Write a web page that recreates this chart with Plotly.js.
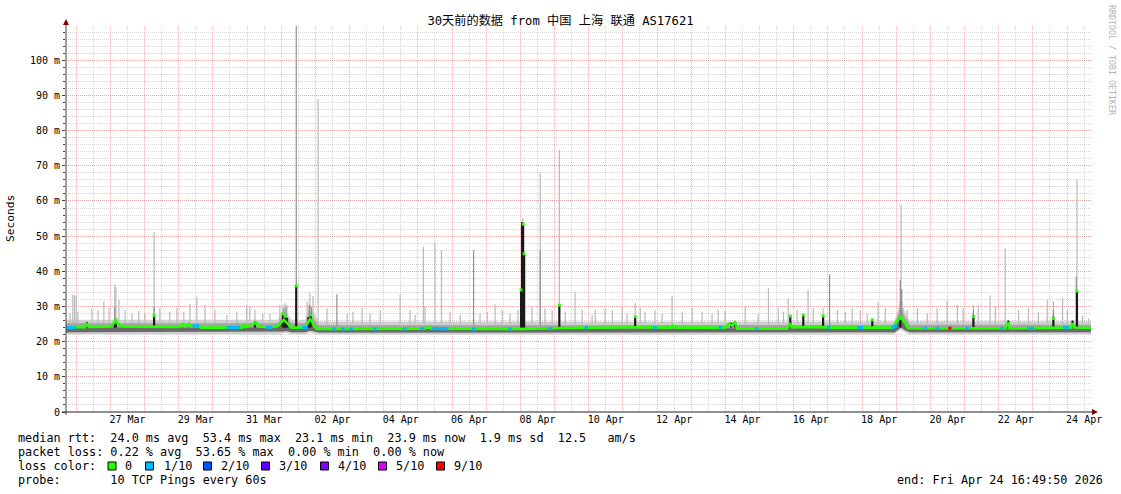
<!DOCTYPE html>
<html><head><meta charset="utf-8">
<script src="https://cdn.plot.ly/plotly-3.0.1.min.js"></script>
<style>html,body{margin:0;padding:0;background:#fff;}#chart{width:1121px;height:494px;}</style>
</head><body><div id="chart"></div>
<script>
// x values: days since 26 Mar 2026 00:00 (local)
const xRange = [-0.2986, 29.701];
const yRange = [0, 109.75];

const titleText = "30天前的数据 from 中国 上海 联通 AS17621";
const yTitle = "Seconds";
const watermark = "RRDTOOL / TOBI OETIKER";

const dayTickPos = [1.5, 3.5, 5.5, 7.5, 9.5, 11.5, 13.5, 15.5, 17.5, 19.5, 21.5, 23.5, 25.5, 27.5, 29.5];
const dayTickText = ["27 Mar", "29 Mar", "31 Mar", "02 Apr", "04 Apr", "06 Apr", "08 Apr", "10 Apr", "12 Apr", "14 Apr", "16 Apr", "18 Apr", "20 Apr", "22 Apr", "24 Apr"];
const yTickVals = [0, 10, 20, 30, 40, 50, 60, 70, 80, 90, 100];
const yTickText = ["0", "10 m", "20 m", "30 m", "40 m", "50 m", "60 m", "70 m", "80 m", "90 m", "100 m"];

// smoke band (ms)
const bandT   = [-0.30, 5.90, 6.05, 6.15, 6.30, 6.70, 6.84, 6.97, 7.10, 13.00, 13.06, 13.12, 23.95, 24.05, 24.14, 24.25, 24.40, 29.70];
const lightHi = [26.2, 26.2, 29.0, 28.5, 26.2, 26.2, 30.5, 28.0, 25.7, 25.7, 30.0, 25.7, 25.8, 29.0, 33.0, 28.5, 25.8, 25.8];
const midHi   = [25.2, 25.2, 27.0, 26.8, 25.2, 25.2, 28.0, 26.5, 24.7, 24.7, 26.0, 24.7, 24.8, 27.5, 30.0, 27.0, 24.8, 24.8];
const darkHi  = [24.0, 24.0, 25.5, 25.8, 24.0, 24.0, 26.5, 25.2, 23.6, 23.6, 23.6, 23.6, 23.9, 25.6, 26.8, 25.2, 23.8, 23.8];
const darkLo  = [22.7, 22.7, 22.9, 23.0, 22.7, 22.7, 23.2, 22.9, 22.6, 22.6, 22.6, 22.6, 22.7, 23.4, 24.0, 23.3, 22.7, 22.7];
const lightLo = [22.1, 22.1, 22.4, 22.5, 22.1, 22.1, 22.6, 22.3, 22.0, 22.0, 22.0, 22.0, 22.1, 22.8, 23.4, 22.7, 22.1, 22.1];

// light smoke spikes (max pings)
const smokeT = [-0.18,-0.10,-0.05,0.00,0.05,0.46,0.64,0.81,0.96,1.13,1.16,1.25,1.43,1.63,1.83,2.01,2.28,2.45,2.74,2.95,3.15,3.33,3.53,3.77,4.06,4.41,4.70,4.99,5.08,5.23,5.46,5.67,5.96,6.05,6.11,6.17,6.76,6.84,6.93,7.08,7.34,7.93,8.10,8.37,8.60,8.90,9.48,9.77,9.92,10.16,10.21,10.50,10.69,10.94,11.24,11.82,12.03,12.26,12.47,12.70,12.93,13.07,13.34,13.58,13.72,13.93,14.14,14.31,14.60,14.81,15.10,15.19,15.48,15.69,15.98,16.12,16.36,16.51,16.65,16.94,17.15,17.44,17.74,18.03,18.32,18.61,18.79,18.99,19.58,19.96,20.26,20.55,20.70,20.84,21.10,21.42,21.57,21.86,22.28,22.51,22.71,22.95,23.15,23.47,23.68,24.14,24.32,24.62,24.91,25.20,25.49,25.79,25.96,26.26,26.40,26.75,26.90,27.19,27.58,27.87,28.16,28.42,28.60,28.87,29.01,29.29,29.45,29.63];
const smokeTop = [28.0,33.3,33.3,33.0,28.5,29.5,29.0,31.4,29.5,36.3,35.5,31.9,29.0,28.0,28.7,28.0,51.2,29.5,28.5,29.5,28.5,30.7,32.8,30.4,29.0,27.6,28.5,30.4,29.9,29.0,28.0,28.0,30.4,30.4,31.0,30.4,31.5,34.0,33.0,89.0,29.5,28.0,28.5,29.5,28.0,29.0,33.5,29.0,27.6,47.0,30.0,48.1,46.0,28.5,27.6,28.0,28.5,30.6,29.0,28.0,29.0,55.0,29.9,68.0,29.5,29.0,74.5,28.5,34.2,29.0,27.6,29.0,29.5,29.0,29.9,28.0,31.0,29.5,28.5,29.0,28.0,33.0,28.5,29.5,28.5,28.0,29.0,28.7,29.9,28.0,35.2,29.5,28.5,32.3,29.0,34.7,29.5,29.5,29.0,28.5,29.5,29.0,28.0,31.3,29.5,59.0,29.0,29.5,28.0,29.5,31.7,30.4,29.5,30.4,30.4,33.1,29.9,46.5,29.0,29.5,28.5,32.0,31.4,32.5,29.0,66.0,27.3,26.6];

// darker smoke spikes
const midT   = [1.13, 2.28, 6.08, 6.14, 6.44, 6.82, 6.88, 7.63, 11.63, 13.58, 22.05, 24.12, 24.16, 26.26, 28.60, 29.27];
const midTop = [30.0, 30.0, 29.5, 30.0, 109.8, 30.5, 30.0, 33.5, 46.0, 46.0, 39.2, 37.5, 35.0, 29.0, 29.0, 38.5];

// near-black smoke columns
const blackT   = [0.31, 1.13, 1.16, 2.28, 5.23, 6.05, 6.11, 6.17, 6.44, 6.80, 6.86, 13.02, 13.05, 13.08, 13.11, 14.14, 16.36, 19.17, 19.29, 20.90, 21.28, 21.86, 23.30, 24.12, 26.26, 27.28, 28.60, 29.16, 29.29];
const blackTop = [25.6, 25.9, 26.4, 27.5, 25.7, 27.9, 27.6, 26.8, 35.9, 27.0, 28.0, 34.7, 54.0, 53.4, 45.0, 30.4, 27.1, 25.4, 25.5, 27.3, 27.6, 27.3, 26.2, 27.5, 27.6, 26.0, 27.1, 26.0, 34.4];

// median rtt (loss 0 colour)
const medT = [-0.30,0.25,0.31,0.37,1.00,1.10,1.16,1.22,1.30,1.45,2.20,2.35,3.00,3.12,3.20,3.30,3.38,3.50,3.65,4.85,4.90,4.96,5.20,5.28,5.35,5.70,5.90,6.00,6.08,6.14,6.22,6.30,6.70,6.78,6.84,6.90,6.97,7.05,10.20,10.30,10.40,13.00,13.15,14.20,14.90,16.30,17.40,17.45,17.50,19.00,19.10,19.18,19.28,19.35,20.80,20.88,20.95,21.70,22.10,23.90,24.00,24.10,24.18,24.25,24.35,27.20,27.27,27.32,29.10,29.16,29.22,29.70];
const medV = [24.1,24.1,25.0,24.2,24.3,25.4,25.8,25.0,24.6,24.3,24.2,24.1,24.2,25.0,24.2,25.0,24.3,24.5,24.0,24.0,24.9,24.1,25.1,25.4,24.3,24.1,24.6,25.4,26.2,25.6,24.8,24.0,24.0,25.6,26.4,25.8,24.4,23.6,23.7,24.2,23.7,23.6,23.6,23.9,24.0,24.1,24.0,24.6,24.0,24.0,25.1,24.6,25.5,23.7,23.7,25.0,24.1,24.2,24.0,24.0,25.6,26.8,26.4,25.2,23.8,23.8,25.5,23.8,24.0,25.2,24.0,23.9];

// median samples drawn high (tips of spikes)
const tipT = [1.16, 2.28, 6.05, 6.11, 6.44, 6.86, 13.02, 13.08, 13.11, 14.14, 16.36, 20.90, 21.28, 21.86, 23.30, 24.12, 26.26, 28.60, 29.29];
const tipV = [26.2, 27.4, 27.9, 27.2, 35.9, 27.6, 34.7, 53.4, 45.0, 30.4, 27.1, 27.3, 27.6, 27.3, 26.2, 27.1, 27.1, 26.6, 34.4];

// median samples with 1/10 loss
const blueT = [-0.25,-0.15,-0.05,3.45,3.55,4.45,4.55,4.65,4.75,5.60,5.70,6.65,6.72,7.55,7.81,8.05,8.75,9.62,10.12,10.45,10.55,10.65,10.75,10.85,11.63,12.70,13.87,14.93,16.94,18.85,19.92,22.02,22.90,22.98,23.90,23.98,24.85,25.20,26.08,27.10,27.88,27.98,28.93,29.00];
const blueV = [24.0,24.0,24.0,24.5,24.5,24.0,24.0,24.0,24.0,24.1,24.1,24.0,24.0,23.6,23.6,23.6,23.6,23.6,23.7,23.7,23.8,23.7,23.7,23.7,23.6,23.6,23.7,24.0,24.0,24.0,23.7,24.0,24.0,24.0,24.0,24.4,23.8,23.8,23.8,23.8,23.8,23.8,24.0,24.0];
// median samples with 9/10 loss
const redT = [25.57];
const redV = [23.8];

// legend
const legendRow1 = "median rtt:  24.0 ms avg  53.4 ms max  23.1 ms min  23.9 ms now  1.9 ms sd  12.5   am/s";
const legendRow2 = "packet loss: 0.22 % avg  53.65 % max  0.00 % min  0.00 % now";
const legendRow3 = "loss color:";
const legendRow4 = "probe:       10 TCP Pings every 60s";
const endText = "end: Fri Apr 24 16:49:50 2026";
const lossLabels = ["0", "1/10", "2/10", "3/10", "4/10", "5/10", "9/10"];
const lossColors = ["#26ff00", "#00b8ff", "#0059ff", "#5e00ff", "#7e00ff", "#dd00ff", "#ff0000"];

// ---------- layout helpers (pixel -> paper) ----------
const W = 1121, H = 494, L = 66, R = 30, T = 26, B = 82;
const PW = W - L - R, PH = H - T - B;
const px = x => (x - L) / PW;
const py = y => (H - B - y) / PH;
const nb = s => s.replace(/ /g, "\u00a0");
const MONO = "DejaVu Sans Mono";

function spikes(ts, tops, base) {
  const x = [], y = [];
  ts.forEach((t, i) => { x.push(t, t, null); y.push(base, tops[i], null); });
  return { x, y };
}
function fillPair(lo, hi, color) {
  return [
    { type: "scatter", mode: "lines", x: bandT, y: lo, line: { width: 0 }, hoverinfo: "skip", showlegend: false },
    { type: "scatter", mode: "lines", x: bandT, y: hi, line: { width: 0 }, fill: "tonexty", fillcolor: color, hoverinfo: "skip", showlegend: false }
  ];
}

const sLight = spikes(smokeT, smokeTop, 25.0);
const sMid = spikes(midT, midTop, 24.5);
const sBlack = spikes(blackT, blackTop, 24.0);

const traces = [
  ...fillPair(lightLo, lightHi, "#cfcfcf"),
  { type: "scatter", mode: "lines", x: sLight.x, y: sLight.y, line: { color: "#b9b9b9", width: 1.2 }, connectgaps: false, hoverinfo: "skip", showlegend: false },
  ...fillPair(darkLo, midHi, "#a4a4a4"),
  { type: "scatter", mode: "lines", x: sMid.x, y: sMid.y, line: { color: "#8e8e8e", width: 1.2 }, hoverinfo: "skip", showlegend: false },
  ...fillPair(darkLo, darkHi, "#6a6a6a"),
  { type: "scatter", mode: "lines", x: sBlack.x, y: sBlack.y, line: { color: "#1a1a1a", width: 2.2 }, hoverinfo: "skip", showlegend: false },
  { type: "scatter", mode: "lines", x: medT, y: medV, line: { color: lossColors[0], width: 2.6 }, hoverinfo: "skip", showlegend: false },
  { type: "scatter", mode: "markers", x: tipT, y: tipV, marker: { color: lossColors[0], symbol: "square", size: 3 }, hoverinfo: "skip", showlegend: false },
  { type: "scatter", mode: "markers", x: blueT, y: blueV, marker: { color: lossColors[1], symbol: "square", size: 3.2 }, hoverinfo: "skip", showlegend: false },
  { type: "scatter", mode: "markers", x: redT, y: redV, marker: { color: lossColors[6], symbol: "square", size: 3.2 }, hoverinfo: "skip", showlegend: false },
  { type: "scatter", mode: "markers", x: [dayTickPos[0]], y: [0], xaxis: "x2", marker: { opacity: 0 }, hoverinfo: "skip", showlegend: false }
];

const annotations = [
  { text: nb(legendRow1), x: px(16), y: py(438) },
  { text: nb(legendRow2), x: px(16), y: py(452) },
  { text: nb(legendRow3), x: px(16), y: py(466) },
  { text: nb(legendRow4), x: px(16), y: py(480) }
].map(a => Object.assign(a, { xref: "paper", yref: "paper", xanchor: "left", yanchor: "middle", showarrow: false, font: { family: MONO, size: 11.8, color: "#000" } }));

annotations.push({ text: nb(endText), x: px(1105), y: py(480), xref: "paper", yref: "paper", xanchor: "right", yanchor: "middle", showarrow: false, font: { family: MONO, size: 11.8, color: "#000" } });
annotations.push({ text: yTitle, x: px(10), y: py(219), xref: "paper", yref: "paper", xanchor: "center", yanchor: "middle", textangle: -90, showarrow: false, font: { family: MONO, size: 11.2, color: "#000" } });
annotations.push({ text: nb(watermark), x: px(1112), y: py(60), xref: "paper", yref: "paper", xanchor: "center", yanchor: "middle", textangle: 90, showarrow: false, font: { family: MONO, size: 8.3, color: "#b4b4b4" } });

// loss color legend boxes
const boxX = [108, 145.5, 203.5, 261.5, 320.5, 378.5, 436.5];
const labelX = [123, 161.5, 219, 277, 335.5, 393.5, 451.5];
const shapes = [];
lossLabels.forEach((lab, i) => {
  shapes.push({ type: "rect", xref: "paper", yref: "paper", x0: px(boxX[i]), x1: px(boxX[i] + 8), y0: py(470), y1: py(462), fillcolor: lossColors[i], line: { color: "#000", width: 1 }, layer: "above" });
  annotations.push({ text: lab, x: px(labelX[i]), y: py(466), xref: "paper", yref: "paper", xanchor: "left", yanchor: "middle", showarrow: false, font: { family: MONO, size: 11.8, color: "#000" } });
});

// axes lines and arrows
shapes.push({ type: "line", xref: "paper", yref: "paper", x0: px(66), x1: px(66), y0: py(415), y1: py(22), line: { color: "#404040", width: 1 }, layer: "above" });
shapes.push({ type: "line", xref: "paper", yref: "paper", x0: px(62), x1: px(1094), y0: py(412), y1: py(412), line: { color: "#202020", width: 1 }, layer: "above" });
shapes.push({ type: "path", xref: "paper", yref: "paper", path: `M ${px(66)} ${py(19)} L ${px(63)} ${py(25)} L ${px(69)} ${py(25)} Z`, fillcolor: "#7f0000", line: { width: 0 }, layer: "above" });
shapes.push({ type: "path", xref: "paper", yref: "paper", path: `M ${px(1098)} ${py(412)} L ${px(1092)} ${py(409)} L ${px(1092)} ${py(415)} Z`, fillcolor: "#7f0000", line: { width: 0 }, layer: "above" });

const gridMajor = "rgba(235,80,80,0.38)";
const gridMinor = "rgba(150,150,150,0.38)";

const layout = {
  width: W, height: H,
  margin: { l: L, r: R, t: T, b: B, pad: 0 },
  paper_bgcolor: "#ffffff", plot_bgcolor: "#ffffff",
  showlegend: false, hovermode: false,
  title: { text: titleText, x: 0.5, xref: "container", xanchor: "center", y: 1 - 21 / H, yref: "container", yanchor: "middle",
           font: { family: MONO + ", Noto Sans CJK SC", size: 12.2, color: "#000" } },
  xaxis: {
    range: xRange, type: "linear", tickmode: "linear", tick0: 0, dtick: 1,
    showticklabels: false, ticks: "", showline: false, zeroline: false,
    showgrid: true, gridcolor: gridMajor, gridwidth: 1, griddash: "1px,1px",
    minor: { tickmode: "linear", tick0: 0, dtick: 0.5, showgrid: true, gridcolor: gridMinor, gridwidth: 1, griddash: "1px,1px", ticks: "" }
  },
  xaxis2: {
    range: xRange, type: "linear", overlaying: "x", anchor: "y", side: "bottom",
    tickmode: "array", tickvals: dayTickPos, ticktext: dayTickText,
    showgrid: false, zeroline: false, showline: false, ticks: "",
    tickfont: { family: MONO, size: 10, color: "#000" }
  },
  yaxis: {
    range: yRange, type: "linear", tickmode: "array", tickvals: yTickVals, ticktext: yTickText,
    showgrid: true, gridcolor: gridMajor, gridwidth: 1, griddash: "1px,1px",
    zeroline: false, showline: false,
    ticks: "outside", ticklen: 3, tickcolor: "#404040", tickwidth: 1,
    tickfont: { family: MONO, size: 10, color: "#000" },
    minor: { tickmode: "linear", tick0: 0, dtick: 2, showgrid: true, gridcolor: gridMinor, gridwidth: 1, griddash: "1px,1px", ticks: "outside", ticklen: 2, tickcolor: "#404040" }
  },
  annotations, shapes
};

Plotly.newPlot("chart", traces, layout, { staticPlot: true, displayModeBar: false });
</script>
</body></html>
